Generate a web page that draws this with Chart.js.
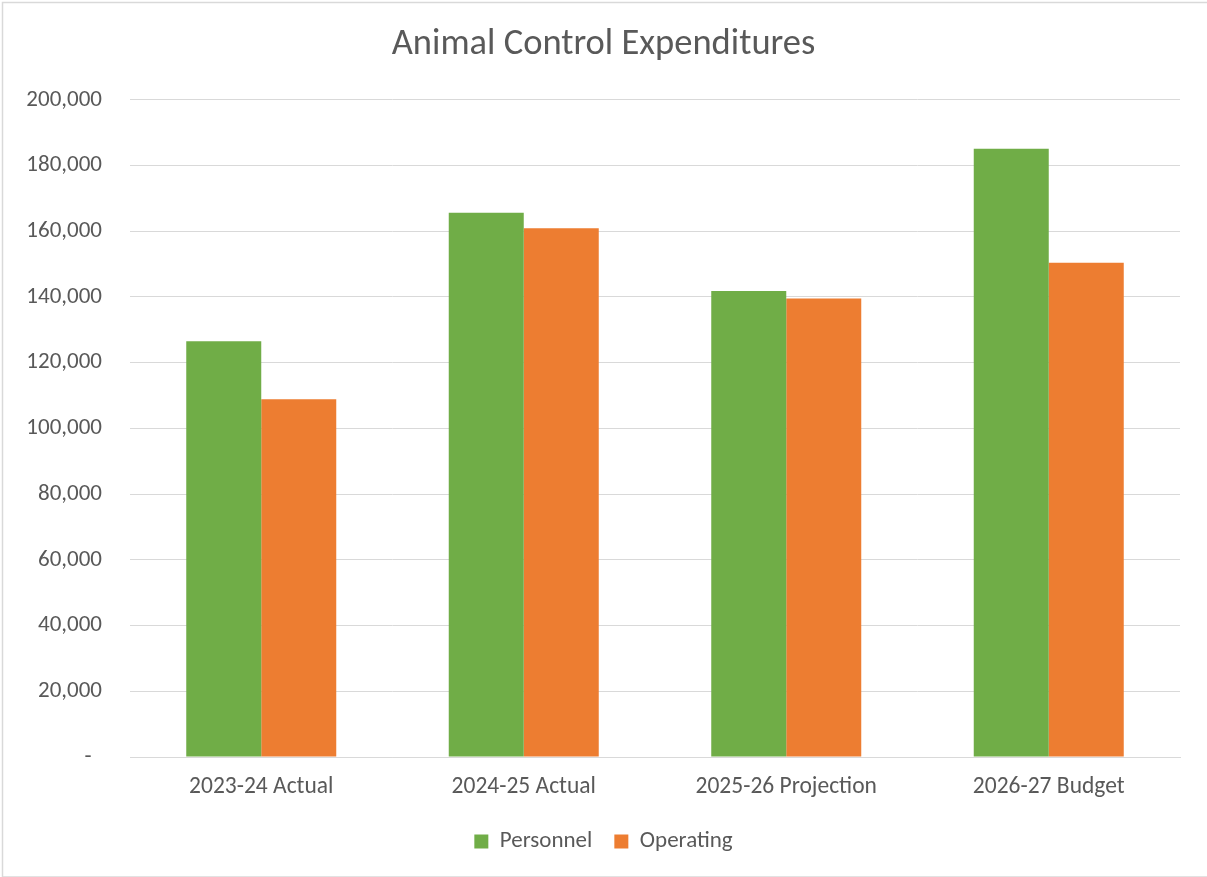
<!DOCTYPE html>
<html>
<head>
<meta charset="utf-8">
<style>
  html, body { margin: 0; padding: 0; background: #ffffff; }
  #wrap { position: relative; width: 1207px; height: 877px; }
</style>
<script src="https://cdn.jsdelivr.net/npm/chart.js@4/dist/chart.umd.min.js"></script>
</head>
<body>
<div id="wrap"><canvas id="chart" width="1207" height="877"></canvas></div>
<script>
// Fiscal periods along the x axis
const categories = ['2023-24 Actual', '2024-25 Actual', '2025-26 Projection', '2026-27 Budget'];
// Spending by type, in dollars
const personnel = [126500, 165600, 141800, 185100];
const operating = [108900, 160900, 139500, 150400];
// Value axis range and step
const yMin = 0;
const yMax = 200000;
const yStep = 20000;

const FONT = "Carlito, 'Open Sans', 'Liberation Sans', sans-serif";
const TEXT = '#595959';
const GRID = '#d9d9d9';

// Thin light frame around the whole chart
const framePlugin = {
  id: 'frame',
  beforeDraw(chart) {
    const ctx = chart.ctx;
    ctx.save();
    ctx.fillStyle = '#ffffff';
    ctx.fillRect(0, 0, chart.width, chart.height);
    ctx.strokeStyle = GRID;
    ctx.lineWidth = 1.5;
    ctx.strokeRect(2.5, 2.5, chart.width - 1.5, chart.height - 2.5);
    ctx.restore();
  }
};

new Chart(document.getElementById('chart'), {
  type: 'bar',
  data: {
    labels: categories,
    datasets: [
      { label: 'Personnel', data: personnel, backgroundColor: '#70ad47', borderWidth: 0 },
      { label: 'Operating', data: operating, backgroundColor: '#ed7d31', borderWidth: 0 }
    ]
  },
  options: {
    responsive: false,
    animation: false,
    devicePixelRatio: 1,
    layout: { padding: { left: 2, right: 2, top: 0, bottom: 14 } },
    datasets: { bar: { categoryPercentage: 2 / 3.5, barPercentage: 1.0 } },
    plugins: {
      title: {
        display: true,
        text: 'Animal Control Expenditures',
        color: TEXT,
        font: { family: FONT, size: 36.5, weight: 'normal' },
        padding: { top: 23, bottom: 33 }
      },
      legend: {
        position: 'bottom',
        labels: {
          color: TEXT,
          font: { family: FONT, size: 23 },
          boxWidth: 14,
          boxHeight: 14,
          padding: 22
        }
      },
      tooltip: { enabled: false }
    },
    scales: {
      x: {
        grid: { display: false, drawTicks: false },
        border: { display: true, color: GRID, width: 1 },
        ticks: { color: TEXT, font: { family: FONT, size: 23.5 }, padding: 16 },
        afterFit(s) { s.height = 51; }
      },
      y: {
        min: yMin,
        max: yMax,
        grid: { color: GRID, lineWidth: 1, drawTicks: false },
        border: { display: false },
        ticks: {
          stepSize: yStep,
          color: TEXT,
          font: { family: FONT, size: 23 },
          padding: 28,
          callback: v => v === 0 ? '-  ' : v.toLocaleString('en-US')
        },
        afterFit(s) { s.width = 128; }
      },
      // Empty right-hand margin so the plot stays centred under the title
      yRight: {
        position: 'right',
        min: yMin,
        max: yMax,
        grid: { display: false, drawTicks: false },
        border: { display: false },
        ticks: { display: false },
        afterFit(s) { s.width = 25; }
      }
    }
  },
  plugins: [framePlugin]
});
</script>
</body>
</html>
